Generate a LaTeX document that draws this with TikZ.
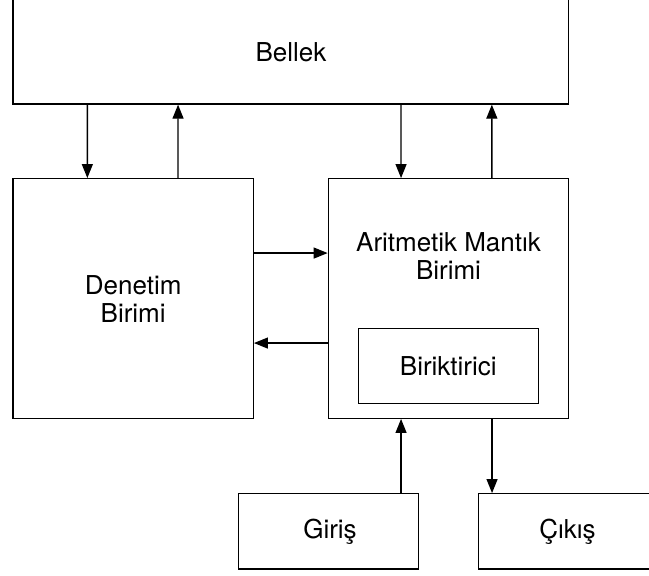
\documentclass[tikz,border=0pt]{standalone}
\usepackage{fontspec}
\setmainfont{TeX Gyre Heros}
\usetikzlibrary{arrows.meta}

\begin{document}
\begin{tikzpicture}[x=1pt, y=-1pt,
  box/.style={draw=black, line width=1.3pt, inner sep=0pt, anchor=center},
  lbl/.style={inner sep=0pt, align=center, font=\fontsize{26}{28}\selectfont},
  arr/.style={line width=1.3pt, -{Triangle[length=14pt, width=11pt]}}]
  \useasboundingbox (0,0) rectangle (649,576);
  \clip (0,0) rectangle (649,576);

  % memory across the top
  \node[box, minimum width=555.7pt, minimum height=106pt] (bellek) at (290.85,51) {};
  \node[lbl] (bellektext) at (291,52) {Bellek};

  % control unit
  \node[box, minimum width=240.3pt, minimum height=239.6pt] (den) at (133.15,298.5) {};
  \node[lbl] (dentext) at (133.15,299) {Denetim\\Birimi};

  % arithmetic logic unit with its accumulator
  \node[box, minimum width=240.4pt, minimum height=239.6pt] (alu) at (448.5,298.5) {};
  \node[lbl] (alutext) at (448.5,256) {Aritmetik Mantık\\Birimi};
  \node[box, minimum width=180pt, minimum height=74.6pt] (bir) at (448.3,366) {};
  \node[lbl] (birtext) at (448.3,366) {Biriktirici};

  % input and output
  \node[box, minimum width=180.4pt, minimum height=75.3pt] (giris) at (328.5,531.35) {};
  \node[lbl] (giristext) at (330,531.35) {Giriş};
  \node[box, minimum width=180pt, minimum height=75.3pt] (cikis) at (568.7,531.35) {};
  \node[lbl] (cikistext) at (567.5,531.35) {Çıkış};

  % memory <-> control unit
  \draw[arr] ([xshift=75pt]bellek.south west) -- ([xshift=75pt]den.north west);
  \draw[arr] ([xshift=165.7pt]den.north west) -- ([xshift=165.7pt]bellek.south west);

  % memory <-> arithmetic logic unit
  \draw[arr] ([xshift=388.7pt]bellek.south west) -- ([xshift=73.4pt]alu.north west);
  \draw[arr] ([xshift=164.2pt]alu.north west) -- ([xshift=479.5pt]bellek.south west);

  % control unit <-> arithmetic logic unit
  \draw[arr] ([yshift=-75pt]den.north east) -- ([yshift=-75pt]alu.north west);
  \draw[arr] ([yshift=-165pt]alu.north west) -- ([yshift=-165pt]den.north east);

  % input and output paths
  \draw[arr] ([xshift=163.4pt]giris.north west) -- ([xshift=73.4pt]alu.south west);
  \draw[arr] ([xshift=164.4pt]alu.south west) -- ([xshift=14pt]cikis.north west);
\end{tikzpicture}
\end{document}
